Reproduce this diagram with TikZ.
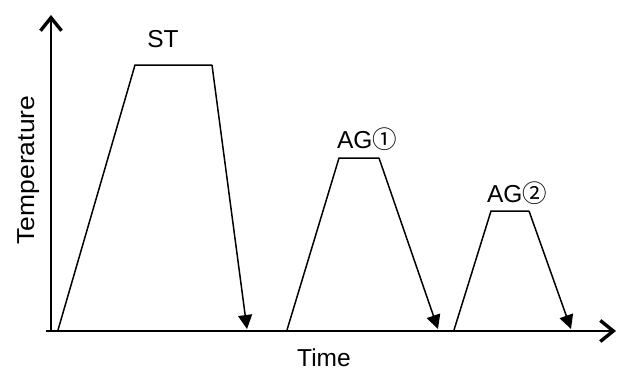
\documentclass[tikz,border=0pt]{standalone}
\usepackage{fontspec}
\setmainfont{Liberation Sans}
\newfontfamily\circfont{Noto Sans CJK JP}
\usetikzlibrary{arrows.meta}
\newcommand{\circnum}[1]{{\circfont #1}}
\begin{document}
\begin{tikzpicture}[x=1pt,y=-1pt,
  axis/.style={line width=2.2pt,-{Straight Barb[length=13pt,width=21pt,line width=3.4pt]}},
  curve/.style={line width=1.5pt},
  cool/.style={curve,-{Triangle[length=14pt,width=14pt]}},
  lbl/.style={font=\fontsize{24.5}{27}\selectfont,inner sep=0pt,anchor=base}]
\useasboundingbox (0,0) rectangle (618,370);
% axes
\coordinate (o) at (51,331);
\coordinate (xo) at (46,331);
\coordinate (ytip) at (51,15);
\coordinate (xtip) at (616,331);
\draw[axis] (o) -- (ytip);
\draw[axis] (xo) -- (xtip);
% ST cycle
\coordinate (s0) at (58,330);
\coordinate (s1) at (135,65);
\coordinate (s2) at (212,65);
\coordinate (s3) at (247,329);
\draw[curve] (s0) -- (s1) -- (s2);
\draw[cool] (s2) -- (s3);
% first AG cycle
\coordinate (a0) at (287,330);
\coordinate (a1) at (339,158);
\coordinate (a2) at (379,158);
\coordinate (a3) at (438,329);
\draw[curve] (a0) -- (a1) -- (a2);
\draw[cool] (a2) -- (a3);
% second AG cycle
\coordinate (b0) at (454,330);
\coordinate (b1) at (491,211);
\coordinate (b2) at (529,211);
\coordinate (b3) at (571,329);
\draw[curve] (b0) -- (b1) -- (b2);
\draw[cool] (b2) -- (b3);
% labels
\node[lbl] (st) at (163,47) {ST};
\node[lbl] (ag1) at (367,148) {AG\circnum{①}};
\node[lbl] (ag2) at (517,202) {AG\circnum{②}};
\node[lbl] (time) at (324,366) {Time};
\node[lbl,rotate=90] (temp) at (34,170) {\scalebox{1.08}[1]{Temperature}};
\end{tikzpicture}
\end{document}
